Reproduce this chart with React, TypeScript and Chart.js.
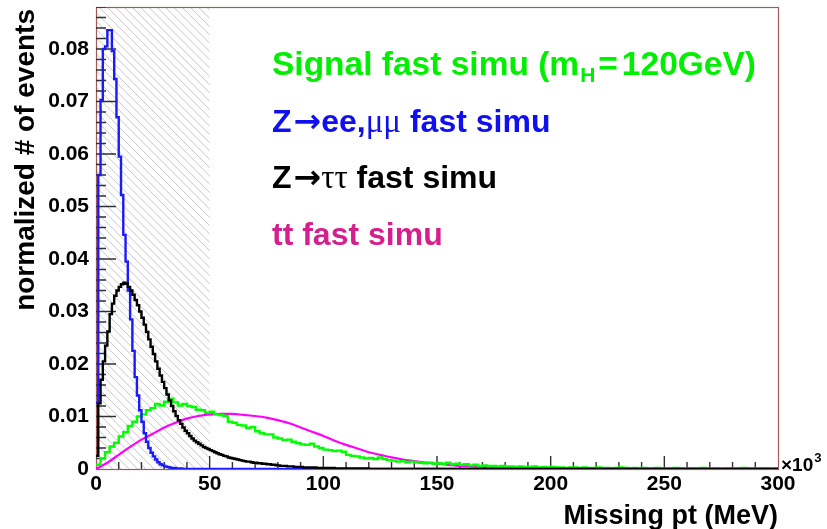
import React, { useEffect, useRef } from 'react';
import { Chart, registerables } from 'chart.js';

Chart.register(...registerables);

// ---------------- data ----------------
const X_MIN = 0;
const X_MAX = 300; // GeV (x10^3 MeV)
const Y_MIN = 0;
const Y_MAX = 0.088;

const xTickStep = 50;
const yTickStep = 0.01;
const minorPerMajor = 5;

// Z->ee,mumu fast simu, 1 GeV bins starting at 0
const blueBinWidth = 1;
const blueBins = [
  0.0126, 0.0560, 0.0703, 0.0800, 0.0805, 0.0836, 0.0836, 0.0796, 0.0743, 0.0670,
  0.0595, 0.0522, 0.0446, 0.0395, 0.0340, 0.0285, 0.0225, 0.0175, 0.0140, 0.0112,
  0.0090, 0.0068, 0.0052, 0.0040, 0.0031, 0.0024, 0.0018, 0.0013, 0.0009, 0.0007,
  0.0005, 0.0004, 0.0003, 0.0002, 0.0002, 0.0001, 0.0001, 0.0001, 0,
];

// Z->tautau fast simu, 1 GeV bins starting at 0
const blackBinWidth = 1;
const blackBins = [
  0.0025, 0.0125, 0.0170, 0.0205, 0.0235, 0.0262, 0.0295, 0.0315, 0.0330, 0.0340,
  0.0347, 0.0352, 0.0355, 0.0353, 0.0347, 0.0340, 0.0332, 0.0322, 0.0312, 0.0300,
  0.0288, 0.0275, 0.0261, 0.0247, 0.0233, 0.0219, 0.0205, 0.0191, 0.0178, 0.0166,
  0.0154, 0.0142, 0.0131, 0.0120, 0.0110, 0.0101, 0.0093, 0.0086, 0.0079, 0.0073,
  0.0068, 0.0063, 0.0058, 0.0054, 0.0051, 0.0048, 0.0045, 0.0042, 0.0040, 0.0038,
  0.0036, 0.0034, 0.0032, 0.0030, 0.0028, 0.0027, 0.0025, 0.0024, 0.0022, 0.0021,
  0.0020, 0.0019, 0.0018, 0.0017, 0.0016, 0.0015, 0.0014, 0.0014, 0.0013, 0.0012,
  0.0012, 0.0011, 0.0011, 0.0010, 0.0010, 0.0009, 0.0009, 0.0008, 0.0008, 0.0007,
  0.0007, 0.0006, 0.0006, 0.0006, 0.0005, 0.0005, 0.0005, 0.0004, 0.0004, 0.0004,
  0.0004, 0.0003, 0.0003, 0.0003, 0.0003, 0.0003, 0.0003, 0.0002, 0.0002, 0.0002,
  0.0002, 0.0002, 0.0002, 0.0002, 0.0002, 0.0001, 0.0001, 0.0001, 0.0001, 0.0001,
  0.0001, 0.0001, 0.0001, 0.0001, 0.0001, 0.0001, 0.0001, 0.0001, 0.0001, 0.0001,
  0,
];

// Signal fast simu (mH = 120 GeV), 2 GeV bins starting at 0
const greenBinWidth = 2;
const greenBins = [
  0.0008, 0.0020, 0.0032, 0.0043, 0.0050, 0.0062, 0.0070, 0.0082, 0.0090, 0.0100,
  0.0104, 0.0112, 0.0116, 0.0124, 0.0121, 0.0128, 0.0134, 0.0127, 0.0121, 0.0124,
  0.0120, 0.0118, 0.0113, 0.0112, 0.0107, 0.0109, 0.0104, 0.0103, 0.0101, 0.0090,
  0.0088, 0.0084, 0.0083, 0.0078, 0.0080, 0.0072, 0.0068, 0.0066, 0.0066, 0.0060,
  0.0058, 0.0055, 0.0056, 0.0052, 0.0049, 0.0047, 0.0046, 0.0048, 0.0043, 0.0040,
  0.0037, 0.0036, 0.0034, 0.0035, 0.0033, 0.0027, 0.0025, 0.0024, 0.0022, 0.0020,
  0.0021, 0.0019, 0.0022, 0.0019, 0.0017, 0.0016, 0.0014, 0.0015, 0.0013, 0.0014,
  0.0013, 0.0012, 0.0011, 0.0012, 0.0010, 0.0011, 0.0010, 0.0012, 0.0009, 0.0010,
  0.0008, 0.0009, 0.0007, 0.0008, 0.0006, 0.0007, 0.0006, 0.0006, 0.0005, 0.0006,
  0.0005, 0.0005, 0.0004, 0.0005, 0.0004, 0.0004, 0.0005, 0.0003, 0.0004, 0.0003,
  0.0004, 0.0003, 0.0003, 0.0002, 0.0003, 0.0003, 0.0002, 0.0003, 0.0002, 0.0002,
  0.0003, 0.0002, 0.0002, 0.0001, 0.0002, 0.0003, 0.0002, 0.0001, 0.0002, 0.0001,
  0.0002, 0.0001, 0.0001, 0.0002, 0.0001, 0.0001, 0.0001, 0.0002, 0.0001, 0.0001,
  0.0001, 0.0001, 0.0001, 0.0002, 0.0001, 0.0001, 0.0001, 0.0000, 0.0001, 0.0001,
  0.0001, 0.0001, 0.0002, 0.0001, 0.0001, 0.0001, 0.0001, 0.0001, 0.0000, 0.0001,
];

// tt fast simu, smooth curve sampled every 5 GeV starting at 0
const magentaStep = 5;
const magentaValues = [
  0, 0.0012, 0.0027, 0.0042, 0.0056, 0.0067, 0.0079, 0.0088, 0.0096, 0.0101,
  0.0104, 0.0105, 0.0105, 0.0103, 0.0101, 0.0098, 0.0093, 0.0087, 0.0079, 0.0071,
  0.0063, 0.0054, 0.0046, 0.0039, 0.0032, 0.0027, 0.0022, 0.0018, 0.0015, 0.0012,
  0.0010, 0.0008, 0.0006, 0.0005, 0.0004, 0.0003, 0.0002, 0.0002, 0.00015, 0.0001,
  0.0001, 0.0001, 0.0001, 0.00008, 0.00008, 0.00006, 0.00006, 0.00005, 0.00005, 0.00004,
  0.00004, 0.00003, 0.00003, 0.00002, 0.00002, 0.00002, 0.00001, 0.00001, 0.00001, 0.00001,
  0.00001,
];

// hatched cut region (GeV)
const cutRegion = [0, 50];

const legendLines = {
  signal: 'Signal fast simu (m',
  signalSub: 'H',
  signalEq: '=',
  signalRest: '120GeV)',
  zll: ['Z', '\u2192', 'ee,', '\u03bc\u03bc', ' fast simu'],
  ztt: ['Z', '\u2192', '\u03c4\u03c4', ' fast simu'],
  tt: 'tt fast simu',
};
const xTitle = 'Missing pt (MeV)';
const yTitle = 'normalized # of events';
const xExponent = ['\u00d710', '3'];

// ---------------- layout (pixels) ----------------
const CANVAS_W = 827;
const CANVAS_H = 529;
const AREA_LEFT = 96;
const AREA_TOP = 7;
const AREA_RIGHT = 778;
const AREA_BOTTOM = 469;
const Y_TICK_MAJOR_PX = 20;
const Y_TICK_MINOR_PX = 10;
const X_TICK_MAJOR_PX = 13;
const X_TICK_MINOR_PX = 7;

// ---------------- helpers ----------------
function histPoints(values: number[], width: number) {
  const pts = values.map((v, i) => ({ x: i * width, y: v }));
  const last = values[values.length - 1];
  pts.push({ x: values.length * width, y: last });
  if (values.length * width < X_MAX) pts.push({ x: X_MAX, y: last });
  return pts;
}

function curvePoints(values: number[], step: number) {
  return values.map((v, i) => ({ x: i * step, y: v }));
}

// tick marks drawn inside the frame (ROOT style), as short line segments in data units
function yTickMarkPoints() {
  const gevPerPx = (X_MAX - X_MIN) / (AREA_RIGHT - AREA_LEFT);
  const minor = yTickStep / minorPerMajor;
  const n = Math.round((Y_MAX - Y_MIN) / minor);
  const pts: { x: number; y: number }[] = [];
  for (let k = 1; k <= n; k++) {
    const v = Y_MIN + k * minor;
    const len = (k % minorPerMajor === 0 ? Y_TICK_MAJOR_PX : Y_TICK_MINOR_PX) * gevPerPx;
    pts.push({ x: X_MIN, y: v }, { x: X_MIN + len, y: v }, { x: X_MIN + len, y: NaN });
  }
  return pts;
}

function xTickMarkPoints() {
  const unitPerPx = (Y_MAX - Y_MIN) / (AREA_BOTTOM - AREA_TOP);
  const minor = xTickStep / minorPerMajor;
  const n = Math.round((X_MAX - X_MIN) / minor);
  const pts: { x: number; y: number }[] = [];
  for (let k = 1; k < n; k++) {
    const v = X_MIN + k * minor;
    const len = (k % minorPerMajor === 0 ? X_TICK_MAJOR_PX : X_TICK_MINOR_PX) * unitPerPx;
    pts.push({ x: v, y: Y_MIN }, { x: v, y: Y_MIN + len }, { x: v, y: NaN });
  }
  return pts;
}

const SANS = "'Liberation Sans', Arial, Helvetica, sans-serif";
const SERIF = "'Liberation Serif', 'DejaVu Serif', serif";
const ARROW = "'DejaVu Sans', sans-serif";

type Part = { text: string; font: string; color: string; dy?: number; gap?: number };

function drawRich(ctx: CanvasRenderingContext2D, x: number, y: number, parts: Part[]) {
  let cx = x;
  for (const p of parts) {
    ctx.font = p.font;
    ctx.fillStyle = p.color;
    ctx.fillText(p.text, cx, y + (p.dy || 0));
    cx += ctx.measureText(p.text).width + (p.gap || 0);
  }
}

const rootStyle = {
  id: 'rootStyle',
  beforeDatasetsDraw(chart: any) {
    const { ctx, chartArea } = chart;
    const { left, top, right, bottom } = chartArea;
    const xs = chart.scales.x;
    // hatch of the cut region
    ctx.save();
    const hx0 = xs.getPixelForValue(cutRegion[0]);
    const hx1 = xs.getPixelForValue(cutRegion[1]);
    ctx.beginPath();
    ctx.rect(hx0, top, hx1 - hx0, bottom - top);
    ctx.clip();
    ctx.strokeStyle = '#c6c6c6';
    ctx.lineWidth = 1;
    const h = bottom - top;
    ctx.beginPath();
    for (let s = hx0 - h; s < hx1 + 2; s += 8.3) {
      ctx.moveTo(s, top);
      ctx.lineTo(s + h, bottom);
    }
    ctx.stroke();
    ctx.restore();

    // frame
    ctx.save();
    ctx.strokeStyle = '#a05a5a';
    ctx.lineWidth = 1.2;
    ctx.strokeRect(Math.round(left) + 0.5, Math.round(top) + 0.5, Math.round(right - left), Math.round(bottom - top));
    ctx.restore();
  },
  afterDraw(chart: any) {
    const { ctx, chartArea } = chart;
    ctx.save();
    ctx.textAlign = 'left';
    ctx.textBaseline = 'alphabetic';
    const big = `bold 32px ${SANS}`;
    const sig = `bold 33.5px ${SANS}`;
    const arrowFont = `bold 33px ${ARROW}`;
    const green = '#00ee00';
    const blue = '#1010ee';
    const black = '#000000';
    const pink = '#d4208c';
    drawRich(ctx, 272, 75, [
      { text: legendLines.signal, font: sig, color: green, gap: 1 },
      { text: legendLines.signalSub, font: `bold 21px ${SANS}`, color: green, dy: 7, gap: 3 },
      { text: legendLines.signalEq, font: sig, color: green, gap: 4 },
      { text: legendLines.signalRest, font: sig, color: green },
    ]);
    drawRich(ctx, 272, 132, [
      { text: legendLines.zll[0], font: big, color: blue, gap: 2 },
      { text: legendLines.zll[1], font: arrowFont, color: blue },
      { text: legendLines.zll[2], font: big, color: blue },
      { text: legendLines.zll[3], font: `33px ${SERIF}`, color: blue },
      { text: legendLines.zll[4], font: big, color: blue },
    ]);
    drawRich(ctx, 272, 188, [
      { text: legendLines.ztt[0], font: big, color: black, gap: 2 },
      { text: legendLines.ztt[1], font: arrowFont, color: black },
      { text: legendLines.ztt[2], font: `33px ${SERIF}`, color: black },
      { text: legendLines.ztt[3], font: big, color: black },
    ]);
    drawRich(ctx, 272, 245, [{ text: legendLines.tt, font: big, color: pink }]);

    // axis titles
    ctx.fillStyle = '#000';
    ctx.font = `bold 27px ${SANS}`;
    ctx.textAlign = 'right';
    ctx.fillText(xTitle, chartArea.right, 524);

    ctx.save();
    ctx.translate(34, 9);
    ctx.rotate(-Math.PI / 2);
    ctx.font = `bold 28px ${SANS}`;
    ctx.textAlign = 'right';
    ctx.fillText(yTitle, 0, 0);
    ctx.restore();

    // x10^3
    ctx.textAlign = 'left';
    ctx.font = `bold 19px ${SANS}`;
    ctx.fillText(xExponent[0], chartArea.right + 3, 471);
    const w = ctx.measureText(xExponent[0]).width;
    ctx.font = `bold 13px ${SANS}`;
    ctx.fillText(xExponent[1], chartArea.right + 3 + w + 1, 462);
    ctx.restore();
  },
};

export default function App() {
  const ref = useRef<HTMLCanvasElement | null>(null);
  useEffect(() => {
    if (!ref.current) return;
    const tickFont = { family: SANS, weight: 'bold' as const, size: 21 };
    const chart = new Chart(ref.current, {
      type: 'line',
      data: {
        datasets: [
          {
            label: 'Z->tautau',
            data: histPoints(blackBins, blackBinWidth),
            borderColor: '#000000',
            borderWidth: 2.4,
            stepped: true,
            pointRadius: 0,
            fill: false,
          },
          {
            label: 'Z->ee,mumu',
            data: histPoints(blueBins, blueBinWidth),
            borderColor: '#1a1aff',
            borderWidth: 2.4,
            stepped: true,
            pointRadius: 0,
            fill: false,
          },
          {
            label: 'Signal',
            data: histPoints(greenBins, greenBinWidth),
            borderColor: '#00ff00',
            borderWidth: 2.4,
            stepped: true,
            pointRadius: 0,
            fill: false,
          },
          {
            label: 'tt',
            data: curvePoints(magentaValues, magentaStep),
            borderColor: '#ff00ff',
            borderWidth: 2.2,
            cubicInterpolationMode: 'monotone',
            pointRadius: 0,
            fill: false,
          },
          {
            label: 'x tick marks',
            data: xTickMarkPoints(),
            borderColor: '#303030',
            borderWidth: 1.4,
            pointRadius: 0,
            fill: false,
            spanGaps: false,
            tension: 0,
          },
          {
            label: 'y tick marks',
            data: yTickMarkPoints(),
            borderColor: '#303030',
            borderWidth: 1.4,
            pointRadius: 0,
            fill: false,
            spanGaps: false,
            tension: 0,
          },
        ] as any,
      },
      options: {
        animation: false,
        responsive: false,
        devicePixelRatio: 1,
        layout: {
          padding: { top: AREA_TOP, right: CANVAS_W - AREA_RIGHT, left: 0, bottom: 0 },
        },
        plugins: { legend: { display: false }, tooltip: { enabled: false } },
        events: [],
        scales: {
          x: {
            type: 'linear',
            min: X_MIN,
            max: X_MAX,
            grid: { display: false, drawTicks: false },
            border: { display: false },
            afterFit: (s: any) => {
              s.height = CANVAS_H - AREA_BOTTOM;
              s.paddingLeft = 0;
              s.paddingRight = 0;
            },
            ticks: {
              stepSize: xTickStep,
              includeBounds: false,
              autoSkip: false,
              maxRotation: 0,
              padding: 3,
              color: '#000',
              font: tickFont,
              callback: (v: any) => String(Math.round(Number(v))),
            },
          },
          y: {
            type: 'linear',
            min: Y_MIN,
            max: Y_MAX,
            grid: { display: false, drawTicks: false },
            border: { display: false },
            afterFit: (s: any) => {
              s.width = AREA_LEFT;
              s.paddingTop = 0;
              s.paddingBottom = 0;
            },
            ticks: {
              stepSize: yTickStep,
              includeBounds: false,
              autoSkip: false,
              padding: 7,
              color: '#000',
              font: tickFont,
              callback: (v: any) => (Number(v) === 0 ? '0' : Number(v).toFixed(2)),
            },
          },
        },
      },
      plugins: [rootStyle],
    });
    return () => chart.destroy();
  }, []);
  return (
    <div style={{ position: 'absolute', left: 0, top: 0, width: CANVAS_W, height: CANVAS_H, background: '#fff' }}>
      <canvas
        ref={ref}
        width={CANVAS_W}
        height={CANVAS_H}
        style={{ display: 'block', width: CANVAS_W, height: CANVAS_H }}
      />
    </div>
  );
}
